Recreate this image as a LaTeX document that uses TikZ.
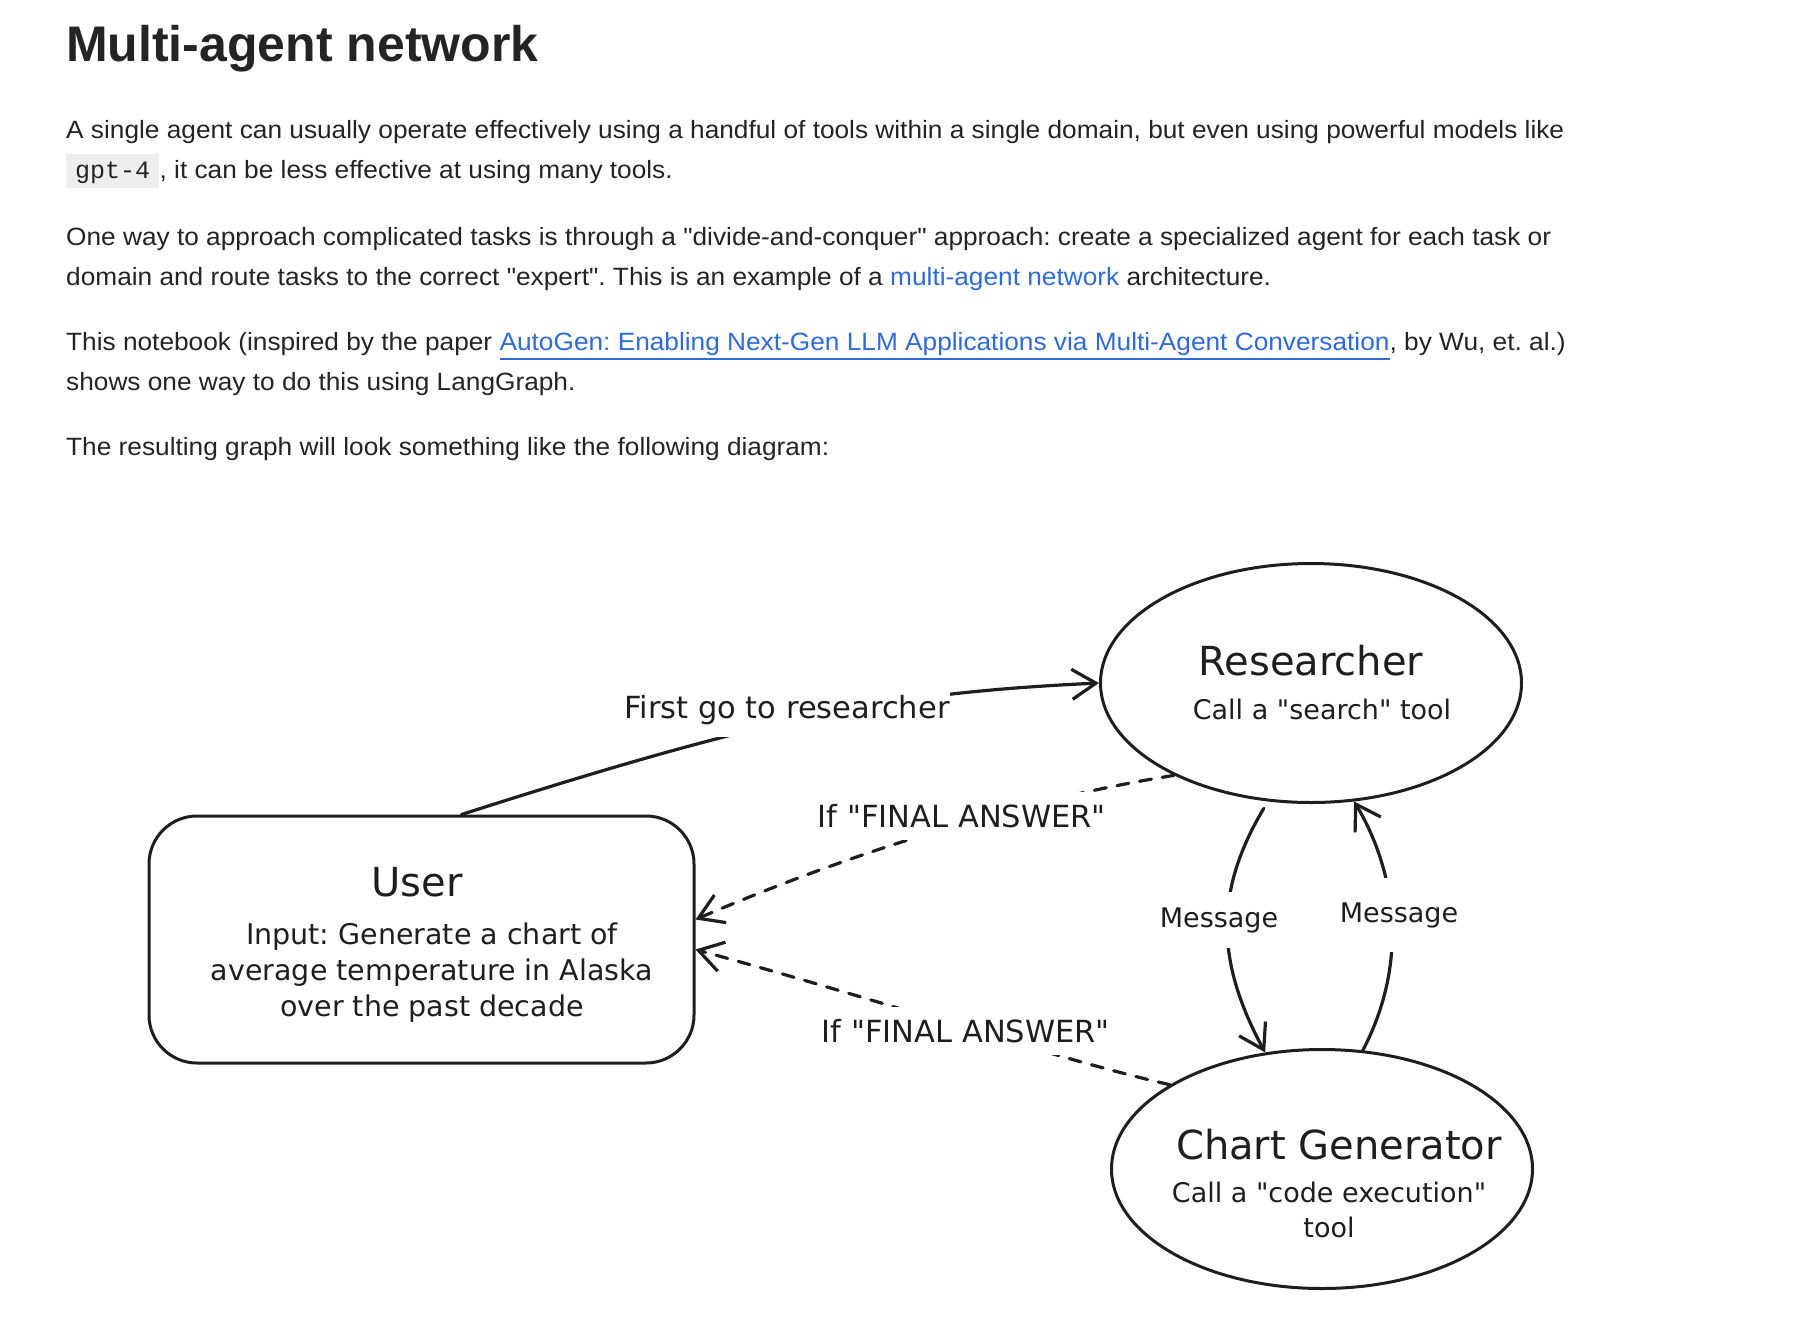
\documentclass[tikz,border=0pt]{standalone}
\usepackage{fontspec}
\newfontfamily\bodyfont{Liberation Sans}[FakeStretch=1.05]
\newfontfamily\bodyboldfont{Liberation Sans Bold}
\newfontfamily\codefont{Liberation Mono}
\newfontfamily\handfont{DejaVu Sans}
\usetikzlibrary{arrows.meta,shapes.geometric}
\definecolor{ink}{HTML}{1E1E1E}
\definecolor{bodytext}{HTML}{242424}
\definecolor{linkblue}{HTML}{2F6BD8}
\definecolor{codebg}{HTML}{EEEEEE}
\newcommand\ulined[1]{\vtop{\hbox{#1}\kern3pt\hrule height 1.6pt}}
\begin{document}
\frenchspacing
\begin{tikzpicture}[x=1pt,y=-1pt,
  bodyline/.style={anchor=base west, inner sep=0pt, text=bodytext, font=\bodyfont\fontsize{25}{30}\selectfont},
  titlestyle/.style={anchor=base west, inner sep=0pt, text=bodytext, font=\bodyboldfont\fontsize{50}{60}\selectfont},
  codebox/.style={anchor=base west, fill=codebg, inner xsep=9pt, inner ysep=2.5pt, text height=22pt, text depth=7pt, text=bodytext, font=\codefont\fontsize{25}{30}\selectfont},
  userbox/.style={draw=ink, rounded corners=48pt, minimum width=545pt, minimum height=247pt, line width=3pt, inner sep=0pt},
  agent/.style={ellipse, draw=ink, minimum width=421pt, minimum height=239pt, line width=3pt, inner sep=0pt},
  hbig/.style={text=ink, inner sep=0pt, font=\handfont\fontsize{40}{48}\selectfont},
  hsmall/.style={text=ink, inner sep=0pt, align=center, font=\handfont\fontsize{27}{35}\selectfont},
  elabel/.style={text=ink, fill=white, inner xsep=0pt, font=\handfont\fontsize{27}{33}\selectfont},
  biglabel/.style={elabel, inner ysep=12pt, font=\handfont\fontsize{30.5}{36}\selectfont},
  conn/.style={draw=ink, line width=3.2pt, line cap=round, -{Straight Barb[length=24pt, width=30pt, line width=3.2pt]}},
  dconn/.style={conn, dash pattern=on 12pt off 11pt}
]
\useasboundingbox (0,0) rectangle (1810,1342);
\fill[white] (0,0) rectangle (1810,1342);

% ---- page text ----
\node[titlestyle] (title) at (66,61) {Multi-agent network};
\node[bodyline] (p1a) at (66,138) {A single agent can usually operate effectively using a handful of tools within a single domain, but even using powerful models like};
\node[codebox] (code) at (66,178) {gpt-4};
\node[bodyline] (p1b) at (code.base east) {, it can be less effective at using many tools.};
\node[bodyline] (p2a) at (66,245) {One way to approach complicated tasks is through a "divide-and-conquer" approach: create a specialized agent for each task or};
\node[bodyline] (p2b) at (66,285) {domain and route tasks to the correct "expert". This is an example of a \textcolor{linkblue}{multi-agent network} architecture.};
\node[bodyline] (p3a) at (66,350) {This notebook (inspired by the paper \textcolor{linkblue}{\ulined{AutoGen: Enabling Next-Gen LLM Applications via Multi-Agent Conversation}}, by Wu, et. al.)};
\node[bodyline] (p3b) at (66,390) {shows one way to do this using LangGraph.};
\node[bodyline] (p4) at (66,455) {The resulting graph will look something like the following diagram:};

% ---- diagram nodes ----
\node[userbox] (user) at (421.5,939.5) {};
\node[hbig] (usertitle) at (417,882) {User};
\node[hsmall, font=\handfont\fontsize{28.5}{36}\selectfont] (userin) at (432,973) {Input: Generate a chart of\\average temperature in Alaska\\over the past decade};

\node[agent] (res) at (1311,683) {};
\node[hbig] (restitle) at (1311,661) {Researcher};
\node[hsmall] (restext) at (1322,709) {Call a "search" tool};

\node[agent] (chart) at (1322,1169) {};
\node[hbig] (charttitle) at (1339,1145) {Chart Generator};
\node[hsmall] (charttext) at (1329,1210) {Call a "code execution"\\tool};

% ---- connectors ----
\draw[conn] ([xshift=40pt]user.north) .. controls (769,716) and (888,693) .. (res.west);
\draw[dconn] (res.214) .. controls (1050,795) and (880,840) .. ([yshift=20pt]user.east);
\draw[dconn] (chart.151) .. controls (1060,1060) and (880,1000) .. ([yshift=-10pt]user.east);
\draw[conn, shorten <=8pt] (res.250) .. controls (1215,890) and (1215,960) .. (chart.116);
\draw[conn] (chart.71) .. controls (1410,960) and (1395,870) .. (res.290);

% ---- connector labels ----
\node[biglabel] (lfirst) at (787,710) {First go to researcher};
\node[biglabel] (lfinal1) at (962,816) {If "FINAL ANSWER"};
\node[biglabel] (lfinal2) at (966,1031) {If "FINAL ANSWER"};
\node[elabel, inner ysep=15pt] (lmsg1) at (1219,920) {Message};
\node[elabel, inner ysep=24pt] (lmsg2) at (1399,915) {Message};
\end{tikzpicture}
\end{document}
